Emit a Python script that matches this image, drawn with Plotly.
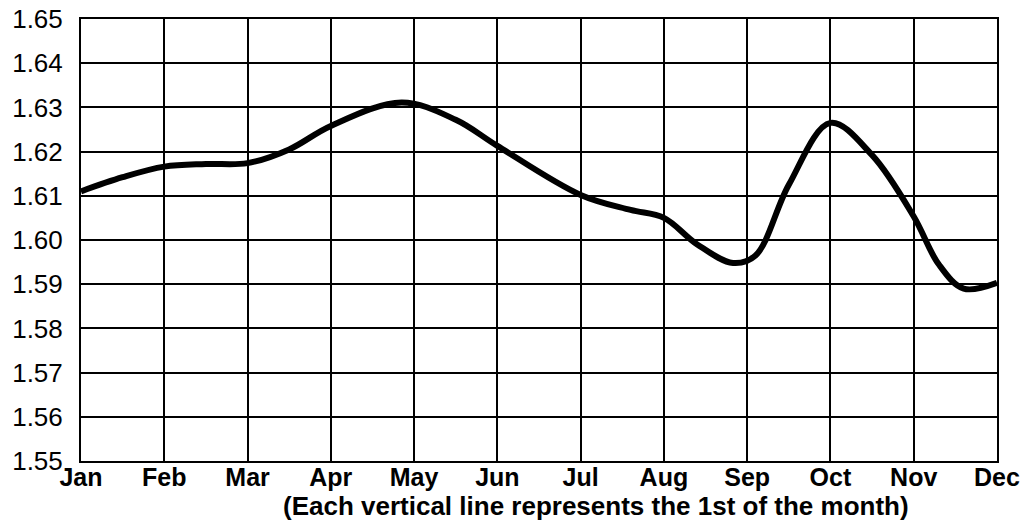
import plotly.graph_objects as go

months = ["Jan", "Feb", "Mar", "Apr", "May", "Jun", "Jul", "Aug", "Sep", "Oct", "Nov", "Dec"]
x_pos = [0, 0.5, 1, 1.5, 2, 2.5, 3, 3.85, 4.5, 5, 6, 6.6, 7, 7.4, 7.83, 8.1, 8.5, 9, 9.5, 10, 10.3, 10.6, 11]
values = [1.6110, 1.6142, 1.6166, 1.6172, 1.6174, 1.6205, 1.6258, 1.6311, 1.6272, 1.6213, 1.6102,
          1.6068, 1.6050, 1.5990, 1.5948, 1.5965, 1.6125, 1.6265, 1.6192, 1.6053, 1.5945, 1.5890, 1.5903]
y_ticks = [1.55, 1.56, 1.57, 1.58, 1.59, 1.60, 1.61, 1.62, 1.63, 1.64, 1.65]
y_labels = ["1.55", "1.56", "1.57", "1.58", "1.59", "1.60", "1.61", "1.62", "1.63", "1.64", "1.65"]
x_title = "(Each vertical line represents the 1st of the month)"

FONT = "Liberation Sans, Arial, sans-serif"

fig = go.Figure(go.Scatter(x=x_pos, y=values, mode="lines",
                           line=dict(color="black", width=6, shape="spline", smoothing=1.0),
                           hoverinfo="skip"))

fig.update_layout(
    width=1026, height=523,
    margin=dict(l=81, r=29, t=19, b=62, pad=0),
    paper_bgcolor="white", plot_bgcolor="white",
    showlegend=False,
    font=dict(family=FONT, color="black"),
    xaxis=dict(range=[0, 11], tickvals=list(range(12)),
               ticktext=["<b>%s</b>" % m for m in months],
               showgrid=True, gridcolor="black", gridwidth=2,
               showline=True, linecolor="black", linewidth=2, mirror=True,
               zeroline=False, ticks="", ticklen=0, automargin=False,
               ticklabelstandoff=-7,
               tickfont=dict(size=25, family=FONT)),
    yaxis=dict(range=[1.55, 1.65], tickvals=y_ticks, ticktext=y_labels,
               showgrid=True, gridcolor="black", gridwidth=2,
               showline=True, linecolor="black", linewidth=2, mirror=True,
               zeroline=False, ticks="", ticklen=0, automargin=False,
               ticklabelstandoff=11,
               tickfont=dict(size=26)),
    annotations=[dict(text="<b>%s</b>" % x_title, xref="paper", yref="paper",
                      x=0.5617, y=0, xanchor="center", yanchor="middle", yshift=-45,
                      showarrow=False, font=dict(size=26, family=FONT))],
)

fig.write_html("out.html", config={"displayModeBar": False},
               post_script="document.body.style.margin='0';document.body.style.overflow='hidden';")
